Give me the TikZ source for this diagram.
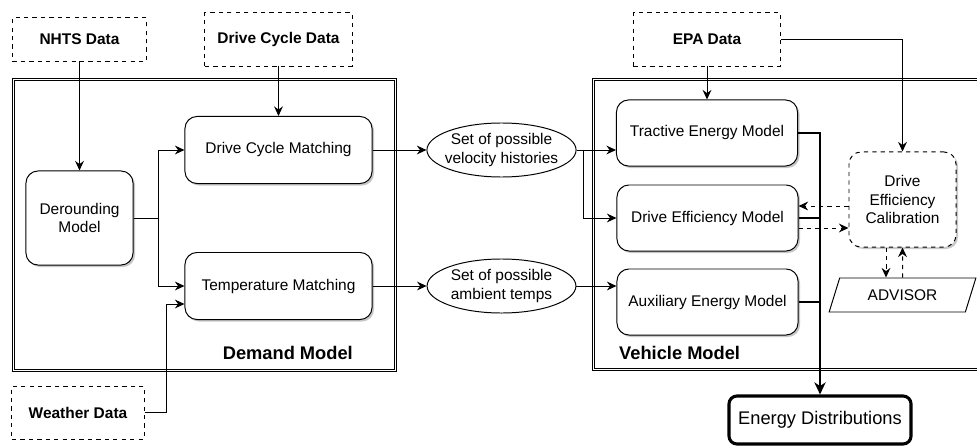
\documentclass[tikz,border=0pt]{standalone}
\usepackage{fontspec}
\setmainfont{Liberation Sans}
\usepackage{tikz}
\usetikzlibrary{arrows.meta,positioning,shapes.geometric,shadows,calc}

\tikzset{
  frame/.style={double, double distance=1.3pt, line width=0.6pt},
  datasrc/.style={draw, dashed, inner sep=0pt, font=\fontsize{11}{13}\selectfont\bfseries},
  block/.style={draw, rounded corners=3mm, align=center, inner sep=0pt, fill=white,
    drop shadow={fill=black!22, opacity=1, shadow xshift=0.5mm, shadow yshift=-0.5mm}},
  calibbox/.style={block, dashed, minimum width=2.675cm, minimum height=2.375cm},
  blob/.style={draw, ellipse, align=center, inner xsep=-1mm, inner ysep=0.5mm,
    minimum width=3.72cm, minimum height=1.35cm},
  advisorbox/.style={draw, trapezium, trapezium left angle=62, trapezium right angle=118,
    trapezium stretches=true, minimum width=3.67cm, minimum height=0.85cm, inner sep=0pt},
  result/.style={draw, line width=2.2pt, rounded corners=2mm, minimum width=4.55cm,
    minimum height=1.2cm, inner sep=0pt, font=\fontsize{13}{15}\selectfont},
  title/.style={font=\fontsize{13}{15}\selectfont\bfseries},
  bus/.style={line width=1.8pt}
}

\begin{document}
\begin{tikzpicture}[x=0.025cm, y=-0.025cm, line width=0.7pt,
    >={Stealth[length=2.4mm,width=2.2mm,inset=0.8mm]},
    every node/.style={font=\fontsize{11}{13}\selectfont}]

   \useasboundingbox (0,0) rectangle (977,446);
   \clip (0,0) rectangle (977,446);

   % Model frames
   \draw[frame] (13.5,79.5) rectangle (395.5,370.5);
   \draw[frame] (593.5,79.5) rectangle (990,369.5);

   % Define the data sources
   \node[datasrc, minimum width=3.35cm, minimum height=1.075cm] (nhts) at (79.5,39.5) {NHTS Data};
   \node[datasrc, minimum width=3.675cm, minimum height=1.325cm] (dcdata) at (278.5,39.5) {Drive Cycle Data};
   \node[datasrc, minimum width=3.675cm, minimum height=1.325cm] (epa) at (707,39.5) {EPA Data};
   \node[datasrc, minimum width=3.3cm, minimum height=1.325cm] (weather) at (78,412.5) {Weather Data};

   % Demand model
   \node[block, minimum width=2.675cm, minimum height=2.35cm] (derounding) at (79.5,218) {Derounding\\Model};
   \node[block, minimum width=4.675cm, minimum height=1.675cm] (dcmatch) at (278.5,150) {Drive Cycle Matching};
   \node[block, minimum width=4.675cm, minimum height=1.675cm] (tempmatch) at (278.5,286) {Temperature Matching};
   \node[title, anchor=east] (demandlbl) at (358,353) {Demand Model};

   % Sets passed between the models
   \node[blob] (velo) at (501.5,150) {Set of possible\\velocity histories};
   \node[blob] (ambient) at (501.5,286) {Set of possible\\ambient temps};

   % Vehicle model
   \node[block, minimum width=4.525cm, minimum height=1.65cm] (tractive) at (707,133) {Tractive Energy Model};
   \node[block, minimum width=4.525cm, minimum height=1.65cm] (drveff) at (707.5,218) {Drive Efficiency Model};
   \node[block, minimum width=4.525cm, minimum height=1.65cm] (auxil) at (707.5,302) {Auxiliary Energy Model};
   \node[title, anchor=west] (vehiclelbl) at (614,353) {Vehicle Model};
   \node[calibbox] (calib) at (902.5,199.5) {Drive\\Efficiency\\Calibration};
   \node[advisorbox] (advisor) at (902.5,295) {ADVISOR};
   \node[result] (energy) at (820,420) {Energy Distributions};

   % Define transitions
   \path[->]
    (nhts) edge (derounding)
    (dcdata) edge (dcmatch)
    (epa) edge (tractive)
    (dcmatch) edge (velo)
    (tempmatch) edge (ambient);

   \coordinate (dsplit) at (158,218);
   \draw[->] (derounding.east) -- (dsplit) |- (dcmatch.west);
   \draw[->] (dsplit) |- (tempmatch.west);

   \coordinate (wbend) at (166,304);
   \draw[->] (weather.east) -| (wbend) -- (wbend -| tempmatch.west);

   \coordinate (vsplit) at (583,150);
   \draw[->] (velo.east) -- (vsplit -| tractive.west);
   \draw[->] (vsplit) |- (drveff.west);
   \draw[->] (ambient.east) -- (ambient.east -| auxil.west);
   \draw[->] (epa.east) -| (calib.north);

   % Calibration loop
   \coordinate (fb) at ($(calib.west)+(0,6.5)$);
   \coordinate (ff) at ($(calib.west)+(0,28.5)$);
   \coordinate (cdown) at ($(calib.south)+(-16.5,0)$);
   \draw[->, dashed] (fb) -- (fb -| drveff.east);
   \draw[->, dashed] (ff -| drveff.east) -- (ff);
   \draw[->, dashed] (cdown) -- (cdown |- advisor.north);
   \draw[->, dashed] (advisor.north) -- (calib.south);

   % Energy bus
   \draw[bus, -{Stealth[length=3mm,width=2.8mm,inset=0.9mm]}] (tractive.east) -| (energy.north);
   \draw[bus] (drveff.east) -- (drveff.east -| energy.north);
   \draw[bus] (auxil.east) -- (auxil.east -| energy.north);

\end{tikzpicture}
\end{document}
